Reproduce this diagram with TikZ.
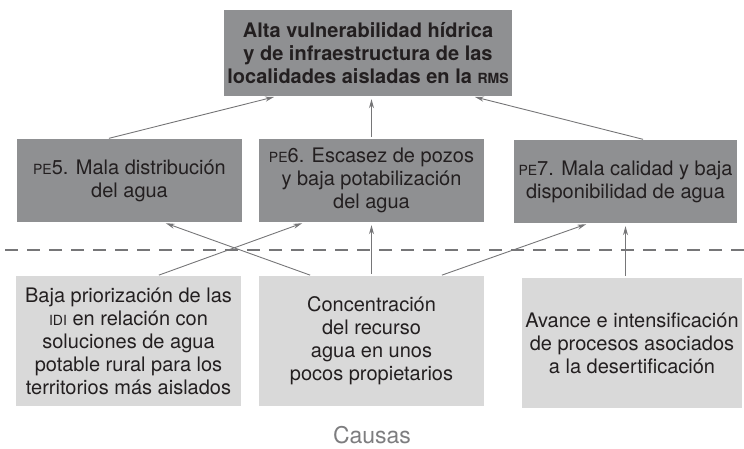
\documentclass[tikz,border=0pt]{standalone}
\usepackage{fontspec}
\setmainfont{TeX Gyre Heros}
\usepackage{tikz}
\usetikzlibrary{arrows.meta}

\definecolor{boxdark}{RGB}{143,144,146}
\definecolor{boxlight}{RGB}{217,217,217}
\definecolor{inkdark}{RGB}{35,31,32}
\definecolor{linegray}{RGB}{118,118,120}
\definecolor{causagray}{RGB}{125,125,127}

% siglas en versalitas
\newcommand{\sigla}[1]{{\fontsize{14}{14}\selectfont #1}}

\begin{document}
\begin{tikzpicture}[
  x=1pt, y=-1pt,
  >={Stealth[length=9pt, width=5pt]},
  every node/.style={font=\fontsize{20}{23}\selectfont, text=inkdark, align=center, inner sep=0pt},
  efecto/.style={fill=boxdark, minimum width=225pt, minimum height=83pt},
  causa/.style={fill=boxlight, minimum width=225pt, minimum height=130pt},
  flecha/.style={->, linegray, line width=0.9pt, shorten <=2pt, shorten >=3pt}
]
\useasboundingbox (0,0) rectangle (744,448);

% Problema central
\node[efecto, minimum width=288pt, minimum height=86pt, font=\fontsize{20}{23}\selectfont\bfseries]
  (problema) at (368,53) {Alta vulnerabilidad hídrica\\y de infraestructura de las\\localidades aisladas en la \sigla{RMS}};

% Efectos
\node[efecto] (pe5) at (129.5,180.5) {\sigla{PE}5. Mala distribución\\del agua};
\node[efecto] (pe6) at (371.5,180.5) {\sigla{PE}6. Escasez de pozos\\y baja potabilización\\del agua};
\node[efecto, minimum width=223pt] (pe7) at (625.5,181.5) {\sigla{PE}7. Mala calidad y baja\\disponibilidad de agua};

% Separador
\draw[linegray, line width=1.6pt, dash pattern=on 13pt off 9pt] (5,250) -- (744,250);

% Causas
\node[causa] (c1) at (128.5,341) {Baja priorización de las\\\sigla{IDI} en relación con\\soluciones de agua\\potable rural para los\\territorios más aislados};
\node[causa] (c2) at (371.5,341) {Concentración\\del recurso\\agua en unos\\pocos propietarios};
\node[causa, minimum width=220pt] (c3) at (632,343) {Avance e intensificación\\de procesos asociados\\a la desertificación};

\node[font=\fontsize{23}{23}\selectfont, text=causagray] (causas) at (372,435) {Causas};

% Flechas hacia el problema
\draw[flecha] ([xshift=-22.5pt]pe5.north) -- ([xshift=-91pt]problema.south);
\draw[flecha] (pe6.north) -- (pe6.north |- problema.south);
\draw[flecha] ([xshift=19.5pt]pe7.north) -- ([xshift=104pt]problema.south);

% Flechas desde las causas
\draw[flecha] ([xshift=28.5pt]c1.north) -- ([xshift=-66.5pt]pe6.south);
\draw[flecha] ([xshift=-59.5pt]c2.north) -- ([xshift=33.5pt]pe5.south);
\draw[flecha] (c2.north) -- (c2.north |- pe6.south);
\draw[flecha] ([xshift=68.5pt]c2.north) -- ([xshift=-36.5pt]pe7.south);
\draw[flecha] (c3.north -| pe7.south) -- (pe7.south);

\end{tikzpicture}
\end{document}
